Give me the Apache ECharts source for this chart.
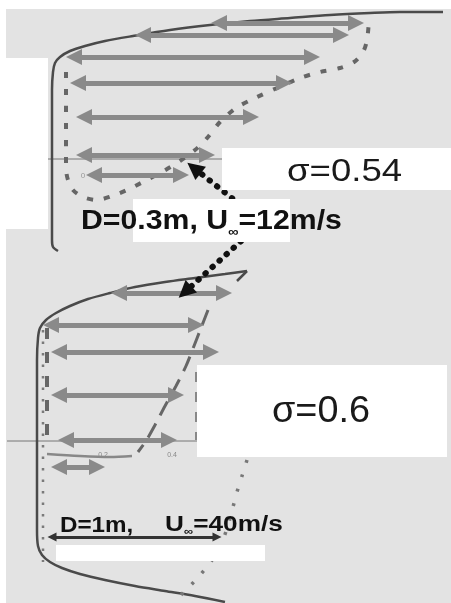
<!DOCTYPE html>
<html><head><meta charset="utf-8">
<script src="https://cdn.jsdelivr.net/npm/echarts@6/dist/echarts.min.js"></script>
<style>html,body{margin:0;padding:0;background:#fff}#c{width:451px;height:603px}</style>
</head><body><div id="c"></div>
<script>
// Velocity-profile arrows: [y, xLeft, xRight] (arrow-head centres)
const topArrows = [[23,219,356],[35,143,341],[57,74,312],[83,78,284],[117,84,251],[155,84,207],[175,94,181]];
const bottomArrows = [[293,119,224],[325,51,196],[352,59,211],[395,59,176],[440,66,169],[467,59,97]];
// Cavity outlines
const topOutline = [[443,12],[400,12],[370,13],[330,15],[290,18],[250,21],[210,25],[170,30],[133,36],[105,41],[85,46],[70,51],[60,57],[55,63],[53,72],[52,90],[52,150],[52,240],[53,247],[58,251]];
const bottomOutline = [[247,271],[225,274],[195,278],[165,282],[135,287],[110,293],[88,299],[70,306],[56,313],[46,320],[40,328],[38,338],[37,360],[37,530],[38,546],[42,555],[50,562],[62,568],[80,574],[105,580],[135,586],[165,591],[195,596],[225,602]];
const bottomHook = [[247,271],[237,281]];
// Profiles
const topProfile = [[66,72],[66,168],[68,180],[73,190],[83,197],[97,200],[112,196],[127,190],[143,182],[162,172],[180,161],[195,150],[208,137],[220,122],[236,108],[255,98],[277,88],[300,78],[320,72],[340,68],[354,62],[363,52],[367,40],[369,20]];
const bottomLeftDots = [[43,330],[43,562]];
const bottomInnerDash = [[47,328],[47,442]];
const bottomInnerBase = [[47,454],[80,456],[110,457],[132,456]];
const bottomSteep = [[208,310],[201,328],[194,346],[186,366],[176,386],[165,406],[155,425],[146,441],[138,452]];
const bottomDots = [[247,460],[242,476],[237,492],[233,507],[229,522],[224,537],[217,552],[210,563],[201,574],[191,585],[180,596],[174,603]];
const boxEdgeDash = [[196,372],[196,440]];
const topAxis = [[48,159],[222,159]];
const bottomAxis = [[7,441],[198,441]];
// Annotation arrows
const blackArrows = [[[262,222],[194,168]],[[262,222],[185,292]]];
const scaleArrow = [[52,537],[217,537]];
const tickLabels = ['0.2','0.4'];
const labelTop = 'σ=0.54';
const labelBottom = 'σ=0.6';

const FF = "'Liberation Sans', Arial, sans-serif";
const chart = echarts.init(document.getElementById('c'), null, {renderer:'canvas'});

function lineSeries(data, style, smooth) {
  return {type:'line', data, symbol:'none', smooth: smooth || false, silent:true, animation:false,
    lineStyle: style, z: 3};
}
function arrowSeries(list, style, symbol, size) {
  return {type:'lines', coordinateSystem:'cartesian2d', silent:true, animation:false,
    data: list.map(c => ({coords: c})), lineStyle: style, symbol, symbolSize: size, z: 4};
}
const arrowStyle = {color:'#8a8a8a', width:5, opacity:1};

const option = {
  backgroundColor:'#e3e3e3',
  animation:false,
  grid:{left:0,right:0,top:0,bottom:0},
  xAxis:{type:'value',min:0,max:451,show:false},
  yAxis:{type:'value',min:0,max:603,inverse:true,show:false},
  series:[
    lineSeries(topAxis, {color:'#777', width:1}),
    lineSeries(bottomAxis, {color:'#777', width:1}),
    lineSeries(topOutline, {color:'#4a4a4a', width:2.5}, 0.3),
    lineSeries(bottomOutline, {color:'#4a4a4a', width:2.5}, 0.3),
    lineSeries(bottomHook, {color:'#4a4a4a', width:2.5}),
    lineSeries(topProfile, {color:'#666', width:4, type:[6,11]}, 0.3),
    lineSeries(bottomLeftDots, {color:'#7a7a7a', width:2.5, type:[2.5,9]}),
    lineSeries(bottomInnerDash, {color:'#666', width:4, type:[11,13]}),
    lineSeries(bottomInnerBase, {color:'#888', width:2.5}, 0.3),
    lineSeries(bottomSteep, {color:'#666', width:3, type:[16,9]}, 0.3),
    lineSeries(bottomDots, {color:'#777', width:3.5, type:[3,12]}, 0.3),
    lineSeries(boxEdgeDash, {color:'#888', width:2, type:[10,10]}),
    arrowSeries(topArrows.map(a => [[a[1],a[0]],[a[2],a[0]]]), arrowStyle, ['triangle','triangle'], 16),
    arrowSeries(bottomArrows.map(a => [[a[1],a[0]],[a[2],a[0]]]), arrowStyle, ['triangle','triangle'], 16),
    arrowSeries(blackArrows, {color:'#111', width:6, type:[0.5,9], cap:'round', opacity:1}, ['none','triangle'], 17),
    arrowSeries([scaleArrow], {color:'#333', width:3, opacity:1}, ['triangle','triangle'], 9)
  ],
  graphic:[
    {type:'rect', z:10, shape:{x:0,y:0,width:451,height:9}, style:{fill:'#fff'}},
    {type:'rect', z:10, shape:{x:0,y:0,width:6,height:603}, style:{fill:'#fff'}},
    {type:'rect', z:10, shape:{x:0,y:58,width:48,height:171}, style:{fill:'#fff'}},
    {type:'rect', z:10, shape:{x:222,y:148,width:229,height:42}, style:{fill:'#fff'}},
    {type:'rect', z:10, shape:{x:133,y:199,width:157,height:43}, style:{fill:'#fff'}},
    {type:'rect', z:10, shape:{x:197,y:365,width:250,height:92}, style:{fill:'#fff'}},
    {type:'rect', z:10, shape:{x:56,y:545,width:209,height:16}, style:{fill:'#fff'}},
    {type:'text', z:11, x:287, y:172, scaleX:1.18,
      style:{text:labelTop, font:'31px '+FF, fill:'#1a1a1a', align:'left', verticalAlign:'middle', textAlign:'left', textVerticalAlign:'middle'}},
    {type:'text', z:11, x:272, y:412, scaleX:1.05,
      style:{text:labelBottom, font:'36px '+FF, fill:'#1a1a1a', align:'left', verticalAlign:'middle', textAlign:'left', textVerticalAlign:'middle'}},
    {type:'text', z:11, x:81, y:204.5, scaleX:1.12,
      style:{text:'{a|D=0.3m, U}{b|∞}{a|=12m/s}', align:'left', verticalAlign:'top', textAlign:'left', textVerticalAlign:'top', fill:'#111',
        rich:{a:{fontFamily:FF, fontSize:27, fontWeight:'bold', lineHeight:34, fill:'#111', color:'#111'},
              b:{fontFamily:FF, fontSize:13, fontWeight:'bold', lineHeight:12, verticalAlign:'bottom', fill:'#111', color:'#111'}}}},
    {type:'text', z:11, x:60, y:526, scaleX:1.1,
      style:{text:'D=1m,', font:'bold 22px '+FF, fill:'#111', align:'left', verticalAlign:'middle', textAlign:'left', textVerticalAlign:'middle'}},
    {type:'text', z:11, x:165, y:513, scaleX:1.19,
      style:{text:'{a|U}{b|∞}{a|=40m/s}', align:'left', verticalAlign:'top', textAlign:'left', textVerticalAlign:'top', fill:'#111',
        rich:{a:{fontFamily:FF, fontSize:22, fontWeight:'bold', lineHeight:24, fill:'#111', color:'#111'},
              b:{fontFamily:FF, fontSize:11, fontWeight:'bold', lineHeight:10, verticalAlign:'bottom', fill:'#111', color:'#111'}}}},
    {type:'text', z:11, x:103, y:455, style:{text:tickLabels[0], font:'7px '+FF, fill:'#888', align:'center', verticalAlign:'middle', textAlign:'center', textVerticalAlign:'middle'}},
    {type:'text', z:11, x:172, y:455, style:{text:tickLabels[1], font:'7px '+FF, fill:'#888', align:'center', verticalAlign:'middle', textAlign:'center', textVerticalAlign:'middle'}},
    {type:'text', z:11, x:83, y:176, style:{text:'0', font:'8px '+FF, fill:'#999', align:'center', verticalAlign:'middle', textAlign:'center', textVerticalAlign:'middle'}}
  ]
};
chart.setOption(option);
</script></body></html>
